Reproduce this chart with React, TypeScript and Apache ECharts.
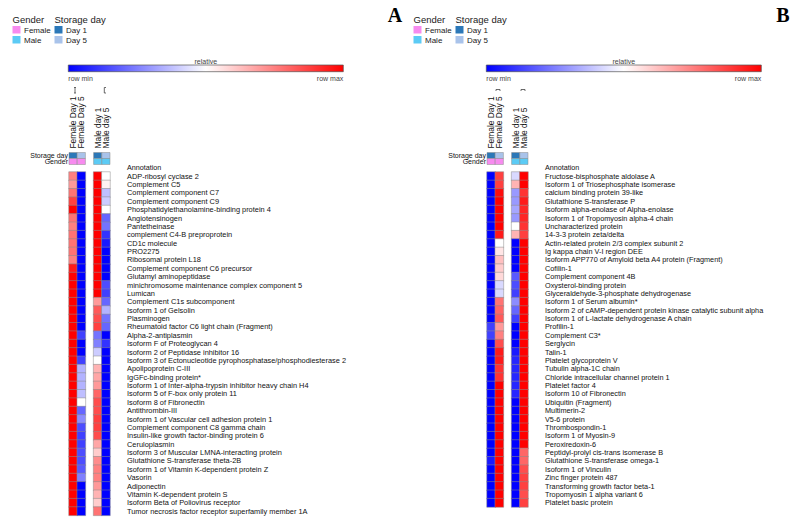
import { useEffect, useRef } from 'react';
import * as echarts from 'echarts';

const columns = ['Female Day 1', 'Female Day 5', '', 'Male day 1', 'Male day 5'];
const annotationRows = ['Storage day', 'Gender'];
const storageDayOfColumn = ['Day 1', 'Day 5', '', 'Day 1', 'Day 5'];
const genderOfColumn = ['Female', 'Female', '', 'Male', 'Male'];

const proteinsA = [
  'ADP-ribosyl cyclase 2',
  'Complement C5',
  'Complement component C7',
  'Complement component C9',
  'Phosphatidylethanolamine-binding protein 4',
  'Angiotensinogen',
  'Pantetheinase',
  'complement C4-B preproprotein',
  'CD1c molecule',
  'PRO2275',
  'Ribosomal protein L18',
  'Complement component C6 precursor',
  'Glutamyl aminopeptidase',
  'minichromosome maintenance complex component 5',
  'Lumican',
  'Complement C1s subcomponent',
  'Isoform 1 of Gelsolin',
  'Plasminogen',
  'Rheumatoid factor C6 light chain (Fragment)',
  'Alpha-2-antiplasmin',
  'Isoform F of Proteoglycan 4',
  'Isoform 2 of Peptidase inhibitor 16',
  'Isoform 3 of Ectonucleotide pyrophosphatase/phosphodiesterase 2',
  'Apolipoprotein C-III',
  'IgGFc-binding protein*',
  'Isoform 1 of Inter-alpha-trypsin inhibitor heavy chain H4',
  'Isoform 5 of F-box only protein 11',
  'Isoform 8 of Fibronectin',
  'Antithrombin-III',
  'Isoform 1 of Vascular cell adhesion protein 1',
  'Complement component C8 gamma chain',
  'Insulin-like growth factor-binding protein 6',
  'Ceruloplasmin',
  'Isoform 3 of Muscular LMNA-interacting protein',
  'Glutathione S-transferase theta-2B',
  'Isoform 1 of Vitamin K-dependent protein Z',
  'Vasorin',
  'Adiponectin',
  'Vitamin K-dependent protein S',
  'Isoform Beta of Poliovirus receptor',
  'Tumor necrosis factor receptor superfamily member 1A',
];
const aFemaleDay1 = [0.5, 0.4, 0.55, 0.75, 1, 0.55, 0.5, 0.55, 0.55, 0.55, 0.5, 0.9, 1, 1, 1, 1, 1, 1, 1, 1, 1, 1, 1, 1, 1, 1, 1, 1, 1, 1, 1, 1, 1, 1, 1, 1, 1, 1, 1, 1, 1];
const aFemaleDay5 = [-1, -1, -1, -1, -1, -1, -1, -1, -1, -1, -1, -1, -1, -1, -1, -1, -1, -1, -1, -0.75, -1, -1, -0.75, -0.3, -0.3, -0.3, -0.25, 0, -0.6, -0.45, -0.7, -0.75, -0.75, -0.7, -0.7, -0.65, -0.5, -1, -1, -1, -1];
const aMaleDay1 = [1, 1, 1, 1, 1, 1, 1, 1, 1, 1, 1, 1, 1, 1, 1, 0.4, 0.65, 0.7, 0.75, -0.55, -0.5, -0.2, 0, 0.3, 0.35, 0.4, 0.6, 0.7, 0.7, 0.75, 0.75, 0.7, 0.35, 0.2, 0.45, 0.5, 0.5, 0.4, 0.3, 0.2, 0.55];
const aMaleDay5 = [0, 0.05, -0.25, -0.2, 0, -0.6, -0.55, -0.8, -0.9, -1, -1, -1, -1, -0.7, -0.75, -0.6, -0.3, -0.55, -0.6, -1, -0.8, -1, -1, -1, -1, -1, -1, -1, -1, -1, -1, -1, -1, -1, -1, -1, -1, -1, -1, -1, -1];

const proteinsB = [
  'Fructose-bisphosphate aldolase A',
  'Isoform 1 of Triosephosphate isomerase',
  'calcium binding protein 39-like',
  'Glutathione S-transferase P',
  'Isoform alpha-enolase of Alpha-enolase',
  'Isoform 1 of Tropomyosin alpha-4 chain',
  'Uncharacterized protein',
  '14-3-3 protein zeta/delta',
  'Actin-related protein 2/3 complex subunit 2',
  'Ig kappa chain V-I region DEE',
  'Isoform APP770 of Amyloid beta A4 protein (Fragment)',
  'Cofilin-1',
  'Complement component 4B',
  'Oxysterol-binding protein',
  'Glyceraldehyde-3-phosphate dehydrogenase',
  'Isoform 1 of Serum albumin*',
  'Isoform 2 of cAMP-dependent protein kinase catalytic subunit alpha',
  'Isoform 1 of L-lactate dehydrogenase A chain',
  'Profilin-1',
  'Complement C3*',
  'Serglycin',
  'Talin-1',
  'Platelet glycoprotein V',
  'Tubulin alpha-1C chain',
  'Chloride intracellular channel protein 1',
  'Platelet factor 4',
  'Isoform 10 of Fibronectin',
  'Ubiquitin (Fragment)',
  'Multimerin-2',
  'V5-6 protein',
  'Thrombospondin-1',
  'Isoform 1 of Myosin-9',
  'Peroxiredoxin-6',
  'Peptidyl-prolyl cis-trans isomerase B',
  'Glutathione S-transferase omega-1',
  'Isoform 1 of Vinculin',
  'Zinc finger protein 487',
  'Transforming growth factor beta-1',
  'Tropomyosin 1 alpha variant 6',
  'Platelet basic protein',
];
const bFemaleDay1 = [-1, -1, -1, -1, -1, -1, -1, -1, -1, -1, -1, -1, -1, -1, -1, -1, -1, -1, -0.75, -0.75, -1, -1, -1, -1, -1, -1, -1, -1, -1, -1, -1, -1, -1, -1, -0.9, -1, -1, -1, -1, -1];
const bFemaleDay5 = [0.75, 0.75, 0.95, 1, 1, 1, 1, 0.9, 0, 0.1, 0.25, 0.2, 0.15, -0.15, -0.15, 0.55, 0.6, 0.65, 0.4, 0.5, 0.7, 0.9, 0.9, 0.8, 0.8, 1, 1, 1, 1, 1, 1, 1, 1, 1, 1, 1, 1, 1, 1, 1];
const bMaleDay1 = [-0.15, 0.3, -0.4, -0.4, -0.35, -0.4, 0, 0.3, -1, -1, -1, -1, -0.65, -0.7, -0.75, -0.45, -0.6, -0.75, -1, -1, -1, -0.9, -0.85, -0.85, -0.85, -0.85, -0.85, -1, -1, -1, -1, -1, -1, -1, -1, -1, -1, -1, -1, -1];
const bMaleDay5 = [1, 1, 0.8, 0.9, 0.85, 0.85, 0.8, 0.75, 1, 1, 1, 1, 1, 1, 1, 1, 1, 1, 1, 1, 1, 1, 1, 1, 1, 1, 1, 1, 1, 1, 1, 1, 1, 0.6, 0.6, 0.7, 0.75, 0.75, 0.7, 0.75];

const colorTicks = ['row min', 'row max'];
const colorTitle = 'relative';

const FONT = 'Liberation Sans, Arial, Helvetica, sans-serif';
const genderColors: Record<string, string> = { Female: '#F78BEF', Male: '#5CCBF5' };
const dayColors: Record<string, string> = { 'Day 1': '#2C78B8', 'Day 5': '#A9C3EA' };
const ROW_H = 8.375;

function cellData(cols: number[][]) {
  const colIdx = [0, 1, 3, 4];
  const out: any[] = [];
  cols.forEach((vals, k) => {
    vals.forEach((v, i) => out.push([colIdx[k], i, v]));
  });
  return out;
}

function annotationData() {
  const data: any[] = [];
  const colors: string[] = [];
  columns.forEach((_, c) => {
    if (!storageDayOfColumn[c]) return;
    data.push([c, 0]);
    colors.push(dayColors[storageDayOfColumn[c]]);
    data.push([c, 1]);
    colors.push(genderColors[genderOfColumn[c]]);
  });
  return { data, colors };
}

function legendGraphics(ox: number) {
  const t = (x: number, y: number, text: string, size: number) => ({
    type: 'text', x: ox + x, y, style: { text, fontSize: size, fontFamily: FONT, fill: '#222', verticalAlign: 'middle', align: 'left' },
  });
  const r = (x: number, y: number, fill: string) => ({ type: 'rect', shape: { x: ox + x, y, width: 8, height: 7.5 }, style: { fill } });
  return [
    t(12.5, 19, 'Gender', 9.5),
    r(12.5, 26, genderColors.Female), t(24, 30, 'Female', 8),
    r(12.5, 36, genderColors.Male), t(24, 40, 'Male', 8),
    t(54.5, 19, 'Storage day', 9.5),
    r(54.5, 26, dayColors['Day 1']), t(66, 30, 'Day 1', 8),
    r(54.5, 36, dayColors['Day 5']), t(66, 40, 'Day 5', 8),
  ];
}

function colorbarGraphics(ox: number) {
  const x0 = ox + 68.3, x1 = ox + 343.3;
  return [
    {
      type: 'rect', shape: { x: x0, y: 65, width: x1 - x0, height: 6.7 },
      style: {
        fill: new echarts.graphic.LinearGradient(0, 0, 1, 0, [
          { offset: 0, color: '#0000FF' }, { offset: 0.5, color: '#FFFFFF' }, { offset: 1, color: '#FF0000' },
        ]),
        stroke: '#555', lineWidth: 0.7,
      },
    },
    { type: 'text', x: (x0 + x1) / 2, y: 61, style: { text: colorTitle, fontSize: 7, fontFamily: FONT, fill: '#444', align: 'center', verticalAlign: 'middle' } },
    { type: 'text', x: x0, y: 78.5, style: { text: colorTicks[0], fontSize: 7, fontFamily: FONT, fill: '#444', align: 'left', verticalAlign: 'middle' } },
    { type: 'text', x: x1, y: 78.5, style: { text: colorTicks[1], fontSize: 7, fontFamily: FONT, fill: '#444', align: 'right', verticalAlign: 'middle' } },
  ];
}

export default function App() {
  const ref = useRef<HTMLDivElement>(null);
  useEffect(() => {
    if (!ref.current) return;
    const chart = echarts.init(ref.current, undefined, { renderer: 'svg' });

    const panels = [
      { ox: 0, rows: proteinsA, labelSize: 7.4, data: cellData([aFemaleDay1, aFemaleDay5, aMaleDay1, aMaleDay5]) },
      { ox: 418, rows: proteinsB, labelSize: 7.3, data: cellData([bFemaleDay1, bFemaleDay5, bMaleDay1, bMaleDay5]) },
    ];

    const grid: any[] = [];
    const xAxis: any[] = [];
    const yAxis: any[] = [];
    const series: any[] = [];
    const cellStyle = { borderColor: '#8a8a8a', borderWidth: 0.5 };
    const heatIdx: number[] = [];

    panels.forEach((p) => {
      const gA = grid.length;
      grid.push({ left: 69 + p.ox, top: 152.5, width: 41, height: 12 });
      xAxis.push({
        type: 'category', gridIndex: gA, data: columns, position: 'top',
        axisLine: { show: false }, axisTick: { show: false }, splitLine: { show: false },
        axisLabel: { rotate: -90, align: 'left', verticalAlign: 'middle', fontSize: 8.4, fontFamily: FONT, color: '#111', margin: 4, interval: 0 },
      });
      yAxis.push({
        type: 'category', gridIndex: gA, data: annotationRows, inverse: true, position: 'left',
        axisLine: { show: false }, axisTick: { show: false }, splitLine: { show: false },
        axisLabel: { fontSize: 7, fontFamily: FONT, color: '#111', margin: 1, interval: 0 },
      });
      const ann = annotationData();
      series.push({
        type: 'custom', xAxisIndex: gA, yAxisIndex: gA, data: ann.data,
        renderItem: (params: any, api: any) => {
          const c = api.coord([api.value(0), api.value(1)]);
          const s = api.size([1, 1]);
          return {
            type: 'rect',
            shape: { x: c[0] - s[0] / 2, y: c[1] - s[1] / 2, width: s[0], height: s[1] },
            style: { fill: ann.colors[params.dataIndex], stroke: '#8a8a8a', lineWidth: 0.5 },
          };
        },
      });

      const gM = grid.length;
      grid.push({ left: 69 + p.ox, top: 172, width: 41, height: p.rows.length * ROW_H });
      xAxis.push({
        type: 'category', gridIndex: gM, data: columns,
        axisLine: { show: false }, axisTick: { show: false }, axisLabel: { show: false }, splitLine: { show: false },
      });
      yAxis.push({
        type: 'category', gridIndex: gM, data: p.rows, inverse: true, position: 'right',
        axisLine: { show: false }, axisTick: { show: false }, splitLine: { show: false },
        axisLabel: { fontSize: p.labelSize, fontFamily: FONT, color: '#111', margin: 17, interval: 0 },
      });
      heatIdx.push(series.length);
      series.push({ type: 'heatmap', xAxisIndex: gM, yAxisIndex: gM, data: p.data, itemStyle: cellStyle, emphasis: { disabled: true } });
    });

    const bracket = (pts: number[][]) => ({ type: 'polyline', shape: { points: pts }, style: { stroke: '#444', lineWidth: 0.8, fill: 'none' } });

    const graphic: any[] = [
      ...legendGraphics(0),
      ...legendGraphics(401),
      ...colorbarGraphics(0),
      ...colorbarGraphics(418),
      { type: 'text', x: 395, y: 15, style: { text: 'A', fontSize: 20, fontWeight: 'bold', fontFamily: 'Liberation Serif, Times New Roman, serif', fill: '#000', align: 'center', verticalAlign: 'middle' } },
      { type: 'text', x: 783, y: 15, style: { text: 'B', fontSize: 20, fontWeight: 'bold', fontFamily: 'Liberation Serif, Times New Roman, serif', fill: '#000', align: 'center', verticalAlign: 'middle' } },
      { type: 'text', x: 127, y: 167, style: { text: 'Annotation', fontSize: 7.2, fontFamily: FONT, fill: '#111', align: 'left', verticalAlign: 'middle' } },
      { type: 'text', x: 545, y: 167, style: { text: 'Annotation', fontSize: 7.2, fontFamily: FONT, fill: '#111', align: 'left', verticalAlign: 'middle' } },
      bracket([[74, 87.5], [76, 87.5]]),
      bracket([[75, 87.5], [75, 93]]),
      bracket([[74, 93], [76, 93]]),
      bracket([[106, 87.5], [104.3, 87.5], [104.3, 93], [106, 93]]),
      bracket([[496, 91], [496, 89.5], [500, 89.5], [500, 91]]),
      bracket([[521, 91], [521, 89.5], [525, 89.5], [525, 91]]),
    ];

    chart.setOption({
      animation: false,
      backgroundColor: '#ffffff',
      grid, xAxis, yAxis, series,
      visualMap: {
        show: false, type: 'continuous', min: -1, max: 1, seriesIndex: heatIdx, dimension: 2,
        inRange: { color: ['#0000FF', '#FFFFFF', '#FF0000'] },
      },
      graphic,
    });
    return () => chart.dispose();
  }, []);
  return <div ref={ref} style={{ position: 'fixed', left: 0, top: 0, width: 800, height: 521 }} />;
}
